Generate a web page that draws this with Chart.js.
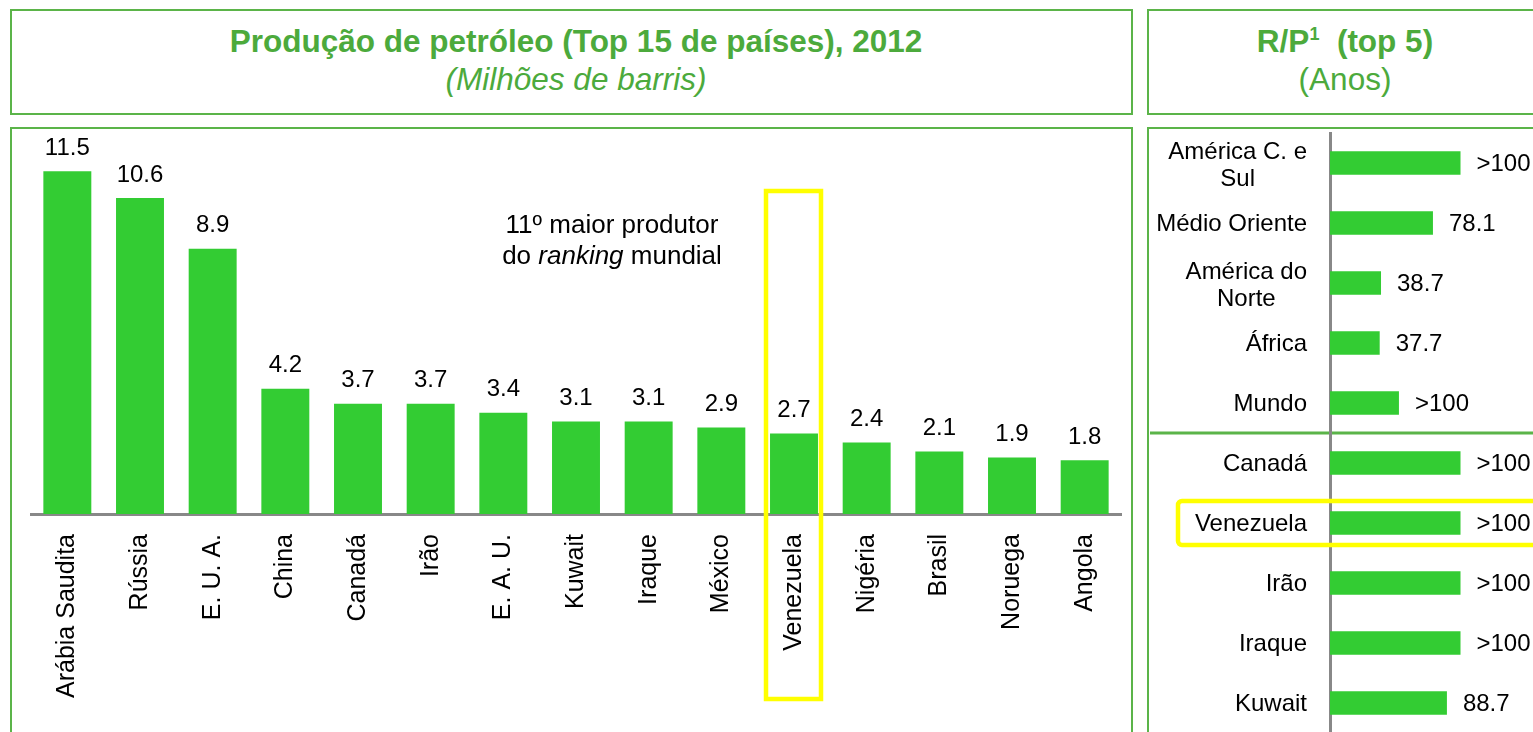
<!DOCTYPE html>
<html>
<head>
<meta charset="utf-8">
<script src="https://cdn.jsdelivr.net/npm/chart.js@4.4.0/dist/chart.umd.min.js"></script>
<style>
  html, body { margin: 0; padding: 0; background: #fff; width: 1533px; height: 732px; overflow: hidden;
    font-family: "Liberation Sans", Arial, sans-serif; }
  .box { position: absolute; border: 2px solid #5bb449; box-sizing: border-box; }
  .title { position: absolute; text-align: center; color: #4caa3c; font-size: 31.5px; line-height: 38px; }
  .title b { font-weight: bold; }
  .title sup { font-size: 18px; vertical-align: 12px; line-height: 0; }
  .note { position: absolute; left: 412px; top: 209px; width: 400px; text-align: center;
    font-size: 26px; line-height: 31px; color: #000; }
  canvas { position: absolute; }
</style>
</head>
<body>

<div class="box" style="left:10px; top:9px; width:1123px; height:106px;"></div>
<div class="box" style="left:10px; top:127px; width:1123px; height:700px;"></div>
<div class="box" style="left:1147px; top:9px; width:400px; height:106px;"></div>
<div class="box" style="left:1147px; top:127px; width:400px; height:700px;"></div>

<div class="title" style="left:0; top:22px; width:1152px;">
  <b>Produção de petróleo (Top 15 de países), 2012</b><br><i>(Milhões de barris)</i>
</div>
<div class="title" style="left:1148px; top:22px; width:394px;">
  <b>R/P<sup>1</sup>&nbsp; (top 5)</b><br>(Anos)
</div>

<canvas id="prod" width="1140" height="605" style="left:0; top:127px;"></canvas>
<canvas id="rp" width="383" height="610" style="left:1150px; top:127px;"></canvas>

<div class="note">11º maior produtor<br>do <i>ranking</i> mundial</div>

<script>
// produção de petróleo 2012 (milhões de barris/dia)
const countries = ['Arábia Saudita', 'Rússia', 'E. U. A.', 'China', 'Canadá', 'Irão', 'E. A. U.',
  'Kuwait', 'Iraque', 'México', 'Venezuela', 'Nigéria', 'Brasil', 'Noruega', 'Angola'];
const production = [11.5, 10.6, 8.9, 4.2, 3.7, 3.7, 3.4, 3.1, 3.1, 2.9, 2.7, 2.4, 2.1, 1.9, 1.8];

// R/P em anos (barras >100 cortadas)
const regions = [['América C. e', 'Sul'], 'Médio Oriente', ['América do', 'Norte'], 'África', 'Mundo',
  'Canadá', 'Venezuela', 'Irão', 'Iraque', 'Kuwait'];
const rpYears = [99, 78.1, 38.7, 37.7, 52.3, 99, 99, 99, 99, 88.7];
const rpLabels = ['>100', '78.1', '38.7', '37.7', '>100', '>100', '>100', '>100', '>100', '88.7'];

const highlight = 'Venezuela';

const green = '#33cc33';
const font = '"Liberation Sans", Arial, sans-serif';

// valores em cima das barras
const prodLabels = {
  id: 'prodLabels',
  afterDatasetsDraw(chart) {
    const ctx = chart.ctx;
    const meta = chart.getDatasetMeta(0);
    ctx.save();
    ctx.font = '24px ' + font;
    ctx.fillStyle = '#000';
    ctx.textAlign = 'center';
    ctx.textBaseline = 'middle';
    meta.data.forEach((bar, i) => {
      ctx.fillText(production[i].toFixed(1), bar.x, bar.y - 23);
    });
    // caixa amarela
    const bar = meta.data[countries.indexOf(highlight)];
    ctx.strokeStyle = '#ffff00';
    ctx.lineWidth = 4.5;
    ctx.strokeRect(bar.x - 28, 64, 55, 508);
    ctx.restore();
  }
};

const rpDecor = {
  id: 'rpDecor',
  beforeDraw(chart) {
    const ctx = chart.ctx;
    const y = chart.scales.y;
    const sep = (y.getPixelForValue(4) + y.getPixelForValue(5)) / 2;
    ctx.save();
    ctx.strokeStyle = '#5bb449';
    ctx.lineWidth = 3;
    ctx.beginPath();
    ctx.moveTo(0, sep);
    ctx.lineTo(chart.width, sep);
    ctx.stroke();
    ctx.restore();
  },
  afterDatasetsDraw(chart) {
    const ctx = chart.ctx;
    const meta = chart.getDatasetMeta(0);
    const area = chart.chartArea;
    ctx.save();
    ctx.font = '24px ' + font;
    ctx.fillStyle = '#000';
    ctx.textBaseline = 'middle';
    // nomes das regiões / países
    regions.forEach((lab, i) => {
      const lines = Array.isArray(lab) ? lab : [lab];
      const w = Math.max(...lines.map(l => ctx.measureText(l).width));
      const cx = area.left - 23 - w / 2;
      const y0 = meta.data[i].y + 1 - (lines.length - 1) * 12;
      ctx.textAlign = 'center';
      lines.forEach((l, k) => ctx.fillText(l, cx, y0 + k * 27));
    });
    // valores
    ctx.textAlign = 'left';
    meta.data.forEach((bar, i) => {
      ctx.fillText(rpLabels[i], bar.x + 16, bar.y + 1);
    });
    // caixa amarela
    const bar = meta.data[regions.indexOf(highlight)];
    ctx.strokeStyle = '#ffff00';
    ctx.lineWidth = 4.5;
    ctx.beginPath();
    ctx.roundRect(28, bar.y - 22, chart.width + 20, 44, 4);
    ctx.stroke();
    ctx.restore();
  }
};

new Chart(document.getElementById('prod'), {
  type: 'bar',
  data: {
    labels: countries,
    datasets: [{ data: production, backgroundColor: green, barPercentage: 0.66, categoryPercentage: 1 }]
  },
  options: {
    responsive: false,
    animation: false,
    layout: { padding: { left: 31, right: 19, top: 29.4, bottom: 0 } },
    plugins: { legend: { display: false }, tooltip: { enabled: false } },
    scales: {
      x: {
        grid: { display: false, drawTicks: false },
        border: { display: true, color: '#888', width: 3 },
        ticks: { autoSkip: false, minRotation: 90, maxRotation: 90, padding: 20, color: '#000',
          font: { size: 25, family: font } },
        afterFit: s => { s.height = 218; }
      },
      y: { display: false, min: 0, max: 12 }
    }
  },
  plugins: [prodLabels]
});

new Chart(document.getElementById('rp'), {
  type: 'bar',
  data: {
    labels: regions,
    datasets: [{ data: rpYears, backgroundColor: green, barPercentage: 0.39, categoryPercentage: 1 }]
  },
  options: {
    indexAxis: 'y',
    responsive: false,
    animation: false,
    layout: { padding: { left: 0, right: 0, top: 6, bottom: 4 } },
    plugins: { legend: { display: false }, tooltip: { enabled: false } },
    scales: {
      x: { display: false, min: 0, max: 154 },
      y: {
        grid: { display: false, drawTicks: false },
        border: { display: true, color: '#888', width: 3 },
        ticks: { display: false },
        afterFit: s => { s.width = 180; }
      }
    }
  },
  plugins: [rpDecor]
});
</script>
</body>
</html>
